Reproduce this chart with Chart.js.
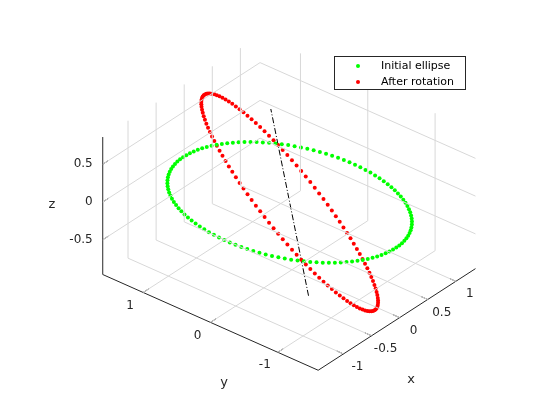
<!DOCTYPE html>
<html><head><meta charset="utf-8">
<script src="https://cdn.jsdelivr.net/npm/chart.js@4"></script>
<style>html,body{margin:0;padding:0;background:#fff}</style>
</head><body>
<canvas id="c" width="560" height="420"></canvas>
<script>
// axis limits and ticks
const xLim = [-1.45, 1.35];
const yLim = [-1.6, 1.6];
const zLim = [-0.96, 0.86];
const xTicks = [-1, -0.5, 0, 0.5, 1];
const yTicks = [-1, 0, 1];
const zTicks = [-0.5, 0, 0.5];
const xTickLabels = ['-1', '-0.5', '0', '0.5', '1'];
const yTickLabels = ['-1', '0', '1'];
const zTickLabels = ['-0.5', '0', '0.5'];
// ellipse parameters
const ellipseCenter = [-0.1, -0.05, 0];
const initialAxisU = [0.475, -1.412, 0];
const initialAxisV = [0.979, 0.649, 0];
const rotatedAxisU = [0.851, 0.882, 0];
const rotatedAxisV = [-0.171, 1.159, 0.85];
const rotationAxis = [0.851, 0.882, 0];
const rotationAxisHalfLength = [1.63];
const nPoints = 120;
const legendLabels = ['Initial ellipse', 'After rotation'];

// view (orthographic projection into the page)
const O = [292.1, 197], EX = [57, -37], EY = [-68.3, -30.5], EZ = [0, -77];
const P = (x, y, z) => ({x: O[0] + x*EX[0] + y*EY[0] + z*EZ[0], y: O[1] + x*EX[1] + y*EY[1] + z*EZ[1]});

function ellipse(C, U, V) {
  const pts = [];
  for (let i = 0; i < nPoints; i++) {
    const t = 2*Math.PI*i/nPoints, c = Math.cos(t), s = Math.sin(t);
    pts.push(P(C[0]+U[0]*c+V[0]*s, C[1]+U[1]*c+V[1]*s, C[2]+U[2]*c+V[2]*s));
  }
  return pts;
}
const green = ellipse(ellipseCenter, initialAxisU, initialAxisV);
const red = ellipse(ellipseCenter, rotatedAxisU, rotatedAxisV);

const gridSegs = [];
const [x0, x1] = xLim, [y0, y1] = yLim, [z0, z1] = zLim;
xTicks.forEach(v => gridSegs.push([P(v,y0,z0), P(v,y1,z0), P(v,y1,z1)]));
yTicks.forEach(v => gridSegs.push([P(x0,v,z0), P(x1,v,z0), P(x1,v,z1)]));
zTicks.forEach(v => gridSegs.push([P(x0,y1,v), P(x1,y1,v), P(x1,y0,v)]));
const axisSegs = [
  [P(x0,y0,z0), P(x1,y0,z0)],
  [P(x0,y0,z0), P(x0,y1,z0)],
  [P(x0,y1,z0), P(x0,y1,z1)]
];
xTicks.forEach(v => axisSegs.push([P(v,y0,z0), P(v,y0+0.1,z0)]));
yTicks.forEach(v => axisSegs.push([P(x0,v,z0), P(x0+0.1,v,z0)]));
zTicks.forEach(v => axisSegs.push([P(x0,y1,v), P(x0+0.1,y1,v)]));

const L = rotationAxisHalfLength[0], A = rotationAxis, C = ellipseCenter;
const axisLine = [P(C[0]-L*A[0], C[1]-L*A[1], C[2]-L*A[2]), P(C[0]+L*A[0], C[1]+L*A[1], C[2]+L*A[2])];

const lineDs = (d, color, extra) => Object.assign({data: d, showLine: true, borderColor: color, borderWidth: 1, pointRadius: 0, fill: false, tension: 0}, extra || {});
const datasets = [];
gridSegs.forEach(s => datasets.push(lineDs(s, '#d8d8d8')));
axisSegs.forEach(s => datasets.push(lineDs(s, '#262626')));
datasets.push({data: green, showLine: false, pointRadius: 2, pointBackgroundColor: '#00ff00', pointBorderWidth: 0});
datasets.push({data: red, showLine: false, pointRadius: 2, pointBackgroundColor: '#ff0000', pointBorderWidth: 0});
datasets.push(lineDs(axisLine, '#000000', {borderDash: [6, 2, 1, 2]}));

const labels = {
  id: 'labels3d',
  afterDatasetsDraw(chart) {
    const ctx = chart.ctx, sx = chart.scales.x, sy = chart.scales.y;
    const px = p => [sx.getPixelForValue(p.x), sy.getPixelForValue(p.y)];
    ctx.save();
    ctx.fillStyle = '#262626';
    ctx.font = '12px "DejaVu Sans"';
    ctx.textBaseline = 'middle';
    ctx.textAlign = 'center';
    xTicks.forEach((v, i) => { const [a, b] = px(P(v, y0, z0)); ctx.fillText(xTickLabels[i], a + 14, b + 13); });
    yTicks.forEach((v, i) => { const [a, b] = px(P(x0, v, z0)); ctx.fillText(yTickLabels[i], a - 13, b + 13); });
    ctx.textAlign = 'right';
    zTicks.forEach((v, i) => { const [a, b] = px(P(x0, y1, v)); ctx.fillText(zTickLabels[i], a - 10, b); });
    ctx.font = '13px "DejaVu Sans"';
    ctx.textAlign = 'center';
    ctx.fillText('x', 411, 380);
    ctx.fillText('y', 224, 383);
    ctx.fillText('z', 52, 205);
    // legend
    ctx.fillStyle = '#fff';
    ctx.fillRect(334.5, 56.5, 131, 33);
    ctx.strokeStyle = '#262626'; ctx.lineWidth = 1;
    ctx.strokeRect(334.5, 56.5, 131, 33);
    ctx.font = '11px "DejaVu Sans"';
    ctx.textAlign = 'left';
    const cols = ['#00ff00', '#ff0000'];
    legendLabels.forEach((t, i) => {
      const yy = 66 + i*16;
      ctx.fillStyle = cols[i];
      ctx.beginPath(); ctx.arc(358, yy, 2, 0, 2*Math.PI); ctx.fill();
      ctx.fillStyle = '#000';
      ctx.fillText(t, 381, yy);
    });
    ctx.restore();
  }
};

new Chart(document.getElementById('c'), {
  type: 'scatter',
  data: {datasets},
  options: {
    responsive: false, animation: false, devicePixelRatio: 1,
    layout: {padding: 0},
    plugins: {legend: {display: false}, tooltip: {enabled: false}},
    scales: {
      x: {type: 'linear', min: 0, max: 560, display: false},
      y: {type: 'linear', min: 0, max: 420, reverse: true, display: false}
    }
  },
  plugins: [labels]
});
</script>
</body></html>
